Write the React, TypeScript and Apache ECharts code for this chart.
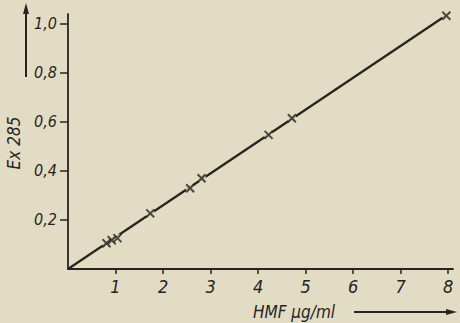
import React, { useEffect, useRef } from "react";
import * as echarts from "echarts";

const xValues = [0.81, 0.92, 1.04, 1.73, 2.57, 2.81, 4.22, 4.71, 7.96];
const yValues = [0.105, 0.117, 0.126, 0.227, 0.329, 0.37, 0.547, 0.615, 1.033];
const fitLine = [[0, 0], [7.96, 1.035]];
const xTicks = [1, 2, 3, 4, 5, 6, 7, 8];
const yTicks = [0.2, 0.4, 0.6, 0.8, 1.0];

const INK = "#26241d";
const BG = "#e3dcc4";
const FONT = '"Liberation Sans Narrow", "DejaVu Sans Condensed", sans-serif';

export default function App() {
  const ref = useRef<HTMLDivElement>(null);
  useEffect(() => {
    if (!ref.current) return;
    const chart = echarts.init(ref.current, null, { renderer: "svg" });
    const pts = xValues.map((x, i) => [x, yValues[i]]);
    chart.setOption({
      animation: false,
      backgroundColor: BG,
      grid: { left: 68, right: 7, top: 14, bottom: 54 },
      xAxis: {
        type: "value",
        min: 0,
        max: 8.1,
        axisLine: { show: true, lineStyle: { color: INK, width: 1.8 } },
        axisTick: { show: true, customValues: xTicks, length: 5, lineStyle: { color: INK, width: 1.5 } },
        axisLabel: {
          customValues: xTicks,
          color: INK,
          fontFamily: FONT,
          fontStyle: "italic",
          fontSize: 18,
          margin: 8,
        },
        splitLine: { show: false },
      },
      yAxis: {
        type: "value",
        min: 0,
        max: 1.04,
        axisLine: { show: true, lineStyle: { color: INK, width: 1.8 } },
        axisTick: { show: true, customValues: yTicks, length: 8, lineStyle: { color: INK, width: 1.5 } },
        axisLabel: {
          customValues: yTicks,
          color: INK,
          fontFamily: FONT,
          fontStyle: "italic",
          fontSize: 16,
          margin: 11,
          formatter: (v: number) => v.toFixed(1).replace(".", ","),
        },
        splitLine: { show: false },
      },
      series: [
        {
          type: "line",
          data: fitLine,
          symbol: "none",
          lineStyle: { color: INK, width: 2.2 },
          z: 1,
        },
        {
          type: "scatter",
          data: pts,
          symbol: "circle",
          symbolSize: 9,
          itemStyle: { color: BG, borderWidth: 0 },
          z: 2,
        },
        {
          type: "scatter",
          data: pts,
          symbol: "path://M0,0L10,10M10,0L0,10",
          symbolSize: 8,
          itemStyle: { color: "none", borderColor: INK, borderWidth: 2 },
          z: 3,
        },
      ],
      graphic: [
        {
          type: "text",
          x: 14,
          y: 143,
          rotation: Math.PI / 2,
          style: {
            text: "Ex 285",
            fill: INK,
            font: `italic 17px ${FONT}`,
            align: "center",
            verticalAlign: "middle",
          },
        },
        {
          type: "line",
          shape: { x1: 26, y1: 77, x2: 26, y2: 12 },
          style: { stroke: INK, lineWidth: 2 },
        },
        {
          type: "polygon",
          shape: { points: [[26, 3], [23, 14], [29, 14]] },
          style: { fill: INK },
        },
        {
          type: "text",
          x: 253,
          y: 312,
          style: {
            text: "HMF µg/ml",
            fill: INK,
            font: `italic 17px ${FONT}`,
            align: "left",
            verticalAlign: "middle",
          },
        },
        {
          type: "line",
          shape: { x1: 354, y1: 312, x2: 448, y2: 312 },
          style: { stroke: INK, lineWidth: 2 },
        },
        {
          type: "polygon",
          shape: { points: [[457, 312], [446, 309], [446, 315]] },
          style: { fill: INK },
        },
      ],
    });
    return () => chart.dispose();
  }, []);
  return (
    <div
      ref={ref}
      style={{ position: "fixed", left: 0, top: 0, width: 460, height: 323 }}
    />
  );
}
